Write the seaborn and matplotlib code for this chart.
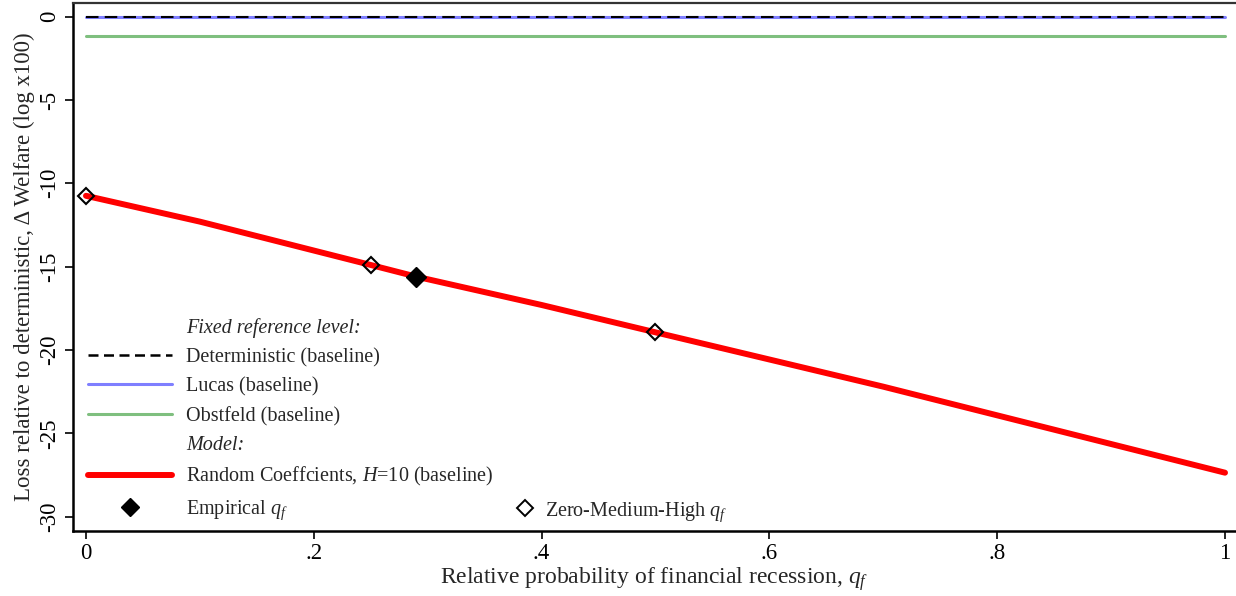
import numpy as np
import pandas as pd
import matplotlib
matplotlib.use("Agg")
import matplotlib.pyplot as plt
import seaborn as sns
from matplotlib.lines import Line2D

# ---- data ----
qf_grid = [0.0, 0.1, 0.25, 0.29, 0.4, 0.5, 0.7, 1.0]
welfare_rc = [-10.75, -12.3, -14.9, -15.6, -17.3, -18.94, -22.2, -27.36]
zmh_qf = [0.0, 0.25, 0.5]
zmh_welfare = [-10.75, -14.9, -18.94]
emp_qf = [0.29]
emp_welfare = [-15.6]
ref_x = [0.0, 1.0]
deterministic_level = 0.0
lucas_level = -0.05
obstfeld_level = -1.16
xticks = [0, 0.2, 0.4, 0.6, 0.8, 1.0]
xtick_labels = ["0", ".2", ".4", ".6", ".8", "1"]
yticks = [0, -5, -10, -15, -20, -25, -30]
ytick_labels = ["0", "-5", "-10", "-15", "-20", "-25", "-30"]

sns.set_theme(style="ticks")
plt.rcParams["font.family"] = ["Liberation Serif", "DejaVu Serif"]
plt.rcParams["mathtext.fontset"] = "custom"
plt.rcParams["mathtext.rm"] = "Liberation Serif"
plt.rcParams["mathtext.it"] = "Liberation Serif:italic"
plt.rcParams["axes.unicode_minus"] = False

W, H = 1236, 596
fig = plt.figure(figsize=(W / 100, H / 100), dpi=100)
ax = fig.add_axes([72.7 / W, 1 - 530.7 / H, 1 - 72.7 / W, (530.7 - 2.7) / H])

ref_df = pd.DataFrame({
    "x": ref_x * 3,
    "y": [deterministic_level] * 2 + [lucas_level] * 2 + [obstfeld_level] * 2,
    "s": ["Deterministic"] * 2 + ["Lucas"] * 2 + ["Obstfeld"] * 2,
})
sns.lineplot(data=ref_df[ref_df.s == "Obstfeld"], x="x", y="y", color="#7fbf7f",
             lw=2.2, ax=ax, legend=False)
sns.lineplot(data=ref_df[ref_df.s == "Lucas"], x="x", y="y", color="#7f7fff",
             lw=2.2, ax=ax, legend=False)
sns.lineplot(data=ref_df[ref_df.s == "Deterministic"], x="x", y="y", color="black",
             lw=1.5, ax=ax, legend=False, dashes=False)
ax.lines[-1].set_linestyle((0, (6, 3)))

rc_df = pd.DataFrame({"qf": qf_grid, "w": welfare_rc})
sns.lineplot(data=rc_df, x="qf", y="w", color="#ff0000", lw=4.3, ax=ax,
             legend=False, solid_capstyle="round")
ax.lines[-1].set_solid_joinstyle("round")

ax.plot(zmh_qf, zmh_welfare, ls="none", marker="D", markersize=8.5,
        markerfacecolor="none", markeredgecolor="black", markeredgewidth=1.5, zorder=5)
ax.plot(emp_qf, emp_welfare, ls="none", marker="D", markersize=10,
        markerfacecolor="black", markeredgecolor="black", zorder=5)

ax.set_xlim((72.7 - 86) / 1139, (1236 - 86) / 1139)
ax.set_ylim(-(530.7 - 16.6) / 16.67, (16.6 - 2.7) / 16.67)
ax.set_xticks(xticks)
ax.set_xticklabels(xtick_labels)
ax.set_yticks(yticks)
ax.set_yticklabels(ytick_labels, rotation=90, va="center")
ax.tick_params(axis="both", direction="out", length=6, width=1.2, labelsize=16.5,
               colors="black", pad=3)
ax.set_xlabel(r"Relative probability of financial recession, $q_f$", fontsize=17,
              labelpad=1)
ax.set_ylabel("Loss relative to deterministic, \u0394 Welfare (log x100)", fontsize=16.5,
              labelpad=3)
for s in ["left", "bottom"]:
    ax.spines[s].set_linewidth(1.8)
    ax.spines[s].set_color("black")
ax.spines["top"].set_linewidth(1.6)
ax.spines["top"].set_color("#333333")
ax.spines["right"].set_visible(False)

# ---- legend ----
fs = 14.5
fpx = fs * 100 / 72
blank = Line2D([], [], color="none")
handles = [
    blank,
    Line2D([], [], color="black", lw=1.8, ls=(0, (4, 2.2))),
    Line2D([], [], color="#7f7fff", lw=2.2),
    Line2D([], [], color="#7fbf7f", lw=2.2),
    blank,
    Line2D([], [], color="#ff0000", lw=4.3),
    Line2D([], [], ls="none", marker="D", markersize=9, color="black"),
]
labels = [
    "Fixed reference level:",
    "Deterministic (baseline)",
    "Lucas (baseline)",
    "Obstfeld (baseline)",
    "Model:",
    r"Random Coeffcients, $H$=10 (baseline)",
    r"Empirical $q_f$",
]
leg = ax.legend(handles, labels, loc="upper left",
                bbox_to_anchor=(88 / W, 1 - 318 / H), bbox_transform=fig.transFigure,
                frameon=False, fontsize=fs, handlelength=84 / fpx,
                handletextpad=14 / fpx, labelspacing=0.5, borderpad=0,
                borderaxespad=0, numpoints=1)
for i in (0, 4):
    leg.get_texts()[i].set_fontstyle("italic")
ax.add_artist(leg)

leg2 = ax.legend([Line2D([], [], ls="none", marker="D", markersize=8,
                         markerfacecolor="white", markeredgecolor="black",
                         markeredgewidth=1.4)],
                 [r"Zero-Medium-High $q_f$"], loc="upper left",
                 bbox_to_anchor=(515 / W, 1 - 500 / H), bbox_transform=fig.transFigure,
                 frameon=False, fontsize=fs, handlelength=20 / fpx,
                 handletextpad=10 / fpx, borderpad=0, borderaxespad=0, numpoints=1)

fig.savefig("out.png", dpi=100, facecolor="white")
